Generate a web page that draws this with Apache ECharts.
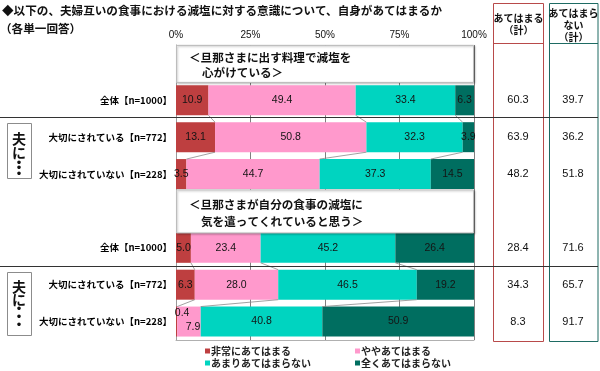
<!DOCTYPE html>
<html><head><meta charset="utf-8">
<script src="https://cdn.jsdelivr.net/npm/echarts@6/dist/echarts.min.js"></script>
<style>html,body{margin:0;padding:0;background:#fff}#c{width:600px;height:371px}</style>
</head><body><div id="c"></div>
<script>
const rowLabels = ['', '全体【n=1000】', '大切にされている【n=772】', '大切にされていない【n=228】', '', '全体【n=1000】', '大切にされている【n=772】', '大切にされていない【n=228】'];
const seriesNames = ['非常にあてはまる', 'ややあてはまる', 'あまりあてはまらない', '全くあてはまらない'];
const veryTrue = ['-', 10.9, 13.1, 3.5, '-', 5.0, 6.3, 0.4];
const somewhatTrue = ['-', 49.4, 50.8, 44.7, '-', 23.4, 28.0, 7.9];
const notVery = ['-', 33.4, 32.3, 37.3, '-', 45.2, 46.5, 40.8];
const notAtAll = ['-', 6.3, 3.9, 14.5, '-', 26.4, 19.2, 50.9];
const trueTotal = ['-', 60.3, 63.9, 48.2, '-', 28.4, 34.3, 8.3];
const falseTotal = ['-', 39.7, 36.2, 51.8, '-', 71.6, 65.7, 91.7];
const headerRows = [0, 4];
const headerTexts = [['＜旦那さまに出す料理で減塩を', '心がけている＞'], ['＜旦那さまが自分の食事の減塩に', '気を遣ってくれていると思う＞']];
const linkPairs = [[1, 2], [2, 3], [5, 6], [6, 7]];
const titleText = '◆以下の、夫婦互いの食事における減塩に対する意識について、自身があてはまるか';
const subTitleText = '（各単一回答）';
const colTrueHeader = 'あてはまる\n（計）';
const colFalseHeader = 'あてはまら\nない\n（計）';
const groupLabel = ['夫', 'に', '・', '・', '・'];

const colors = ['#BE3F40', '#FF99CC', '#00D4C0', '#006E60'];
const allSeries = [veryTrue, somewhatTrue, notVery, notAtAll];
const JP = '"Noto Sans CJK JP", sans-serif';
const NUM = '"Liberation Sans", Arial, sans-serif';
const BARW = 30;

const labelOffsets = { '0_7': [5.5, -8.5], '1_7': [4, 5.5] };

function cum(row, k) {
  let s = 0;
  for (let j = 0; j < k; j++) s += allSeries[j][row];
  return s;
}

const barSeries = allSeries.map((arr, si) => ({
  name: seriesNames[si],
  type: 'bar',
  stack: 'all',
  barWidth: BARW,
  itemStyle: { color: colors[si] },
  label: {
    show: true, position: 'inside', color: '#141414', fontSize: 10.5, fontFamily: NUM,
    formatter: p => Number(p.value).toFixed(1)
  },
  data: arr.map((v, i) => {
    const off = labelOffsets[si + '_' + i];
    if (off) return { value: v, label: { offset: off } };
    return v;
  }),
  z: 2
}));

const linkSeries = {
  type: 'custom', name: 'links', clip: false, silent: true, z: 3,
  encode: { x: 0, y: 1 },
  data: linkPairs.map(p => [0, p[0]]),
  renderItem: (params, api) => {
    const pr = linkPairs[params.dataIndex];
    const children = [];
    for (let k = 1; k <= 3; k++) {
      const a = api.coord([cum(pr[0], k), pr[0]]);
      const b = api.coord([cum(pr[1], k), pr[1]]);
      children.push({
        type: 'line',
        shape: { x1: a[0], y1: a[1] + BARW / 2, x2: b[0], y2: b[1] - BARW / 2 },
        style: { stroke: '#8a8a8a', lineWidth: 0.8 }
      });
    }
    return { type: 'group', children };
  }
};

const headerSeries = {
  type: 'custom', name: 'headers', clip: false, silent: true, z: 4,
  encode: { x: 0, y: 1 },
  data: headerRows.map(r => [0, r]),
  renderItem: (params, api) => {
    const r = headerRows[params.dataIndex];
    const lines = headerTexts[params.dataIndex];
    const p0 = api.coord([0, r]);
    const p1 = api.coord([100, r]);
    const big = params.dataIndex === 1;
    const top = big ? p0[1] - 21.5 : p0[1] - 18.5;
    const h = big ? 43 : 37;
    return {
      type: 'group', children: [
        { type: 'rect', shape: { x: p0[0] + 0.5, y: top + 0.5, width: p1[0] - p0[0] - 1, height: h },
          style: { fill: '#fff', stroke: '#bdbdbd', lineWidth: 1, shadowBlur: 2, shadowOffsetX: 1, shadowOffsetY: 1, shadowColor: 'rgba(0,0,0,0.25)' } },
        { type: 'text', style: { x: p0[0] + 13, y: p0[1] - 6, text: lines[0], fill: '#111', font: 'bold 11.6px ' + JP, verticalAlign: 'middle' } },
        { type: 'text', style: { x: p0[0] + (big ? 25 : 26), y: big ? p0[1] + 11 : p0[1] + 9.5, text: lines[1], fill: '#111', font: 'bold 11.6px ' + JP, verticalAlign: 'middle' } }
      ]
    };
  }
};

const totalRows = [];
trueTotal.forEach((v, i) => { if (v !== '-') totalRows.push([0, i, v, falseTotal[i]]); });
const totalSeries = {
  type: 'custom', name: 'totals', clip: false, silent: true, z: 4,
  encode: { x: 0, y: 1 },
  data: totalRows,
  renderItem: (params, api) => {
    const y = api.coord([0, api.value(1)])[1];
    return {
      type: 'group', children: [
        { type: 'text', style: { x: 518, y: y, text: api.value(2).toFixed(1), fill: '#111', font: '11px ' + NUM, align: 'center', verticalAlign: 'middle' } },
        { type: 'text', style: { x: 573, y: y, text: api.value(3).toFixed(1), fill: '#111', font: '11px ' + NUM, align: 'center', verticalAlign: 'middle' } }
      ]
    };
  }
};

function vertLabel(yList) {
  return groupLabel.map((ch, i) => ({
    type: 'text', x: 19, y: yList[i],
    style: { text: ch, fill: '#111', font: 'bold 14px ' + JP, align: 'center', verticalAlign: 'middle' }
  }));
}

const legendCommon = {
  orient: 'vertical', top: 346, padding: 0, itemWidth: 5, itemHeight: 5, itemGap: 2, icon: 'rect',
  selectedMode: false,
  textStyle: { fontSize: 10, fontWeight: 'bold', color: '#222', fontFamily: JP, padding: [0, 0, 0, -4] }
};

const chart = echarts.init(document.getElementById('c'), null, { renderer: 'canvas' });
chart.setOption({
  animation: false,
  backgroundColor: '#fff',
  grid: { left: 176, right: 126, top: 45, bottom: 31, containLabel: false },
  xAxis: [{
    type: 'value', position: 'top', min: 0, max: 100, interval: 25,
    axisLine: { show: false }, axisTick: { show: false },
    splitLine: { show: true, lineStyle: { color: '#7f7f7f', width: 1 } },
    axisLabel: { formatter: '{value}%', fontSize: 10, color: '#111', fontFamily: NUM, margin: 5 }
  }, {
    type: 'value', position: 'bottom', min: 0, max: 100, interval: 25,
    axisLine: { show: true, lineStyle: { color: '#b0b0b0' } }, axisTick: { show: false },
    splitLine: { show: false }, axisLabel: { show: false }
  }],
  yAxis: {
    type: 'category', inverse: true, data: rowLabels,
    axisLine: { show: true, lineStyle: { color: '#9a9a9a' } }, axisTick: { show: false },
    axisLabel: { fontSize: 9.5, fontWeight: 'bold', color: '#000', fontFamily: JP, margin: 4 }
  },
  legend: [
    Object.assign({ left: 205, data: [seriesNames[0], seriesNames[2]] }, legendCommon),
    Object.assign({ left: 355, data: [seriesNames[1], seriesNames[3]] }, legendCommon)
  ],
  series: barSeries.concat([linkSeries, headerSeries, totalSeries]),
  graphic: [
    { type: 'text', x: 2, y: 11, style: { text: titleText, fill: '#111', font: 'bold 11.6px ' + JP, verticalAlign: 'middle' } },
    { type: 'text', x: 0, y: 29, style: { text: subTitleText, fill: '#111', font: 'bold 11.6px ' + JP, verticalAlign: 'middle' } },
    { type: 'rect', shape: { x: 493.5, y: 3.5, width: 50, height: 338 }, style: { fill: 'none', stroke: '#B84A4A', lineWidth: 1 } },
    { type: 'line', shape: { x1: 493.5, y1: 43.5, x2: 543.5, y2: 43.5 }, style: { stroke: '#B84A4A', lineWidth: 1 } },
    { type: 'rect', shape: { x: 549.5, y: 3.5, width: 48.5, height: 338 }, style: { fill: 'none', stroke: '#1E6B63', lineWidth: 1 } },
    { type: 'line', shape: { x1: 549.5, y1: 43.5, x2: 598, y2: 43.5 }, style: { stroke: '#1E6B63', lineWidth: 1 } },
    { type: 'text', x: 518.5, y: 24, style: { text: colTrueHeader, fill: '#111', font: 'bold 10px ' + JP, align: 'center', verticalAlign: 'middle', lineHeight: 12 } },
    { type: 'text', x: 573.5, y: 25, style: { text: colFalseHeader, fill: '#111', font: 'bold 10px ' + JP, align: 'center', verticalAlign: 'middle', lineHeight: 12 } },
    { type: 'line', shape: { x1: 0, y1: 117.5, x2: 598, y2: 117.5 }, style: { stroke: '#333', lineWidth: 1 }, z: 10 },
    { type: 'line', shape: { x1: 0, y1: 266.5, x2: 598, y2: 266.5 }, style: { stroke: '#333', lineWidth: 1 }, z: 10 },
    { type: 'rect', shape: { x: 7.5, y: 123.5, width: 24, height: 55 }, style: { fill: '#fff', stroke: '#8c8c8c', lineWidth: 1 } },
    { type: 'rect', shape: { x: 7.5, y: 272.5, width: 24, height: 63 }, style: { fill: '#fff', stroke: '#8c8c8c', lineWidth: 1 } }
  ].concat(vertLabel([139, 152.5, 161.5, 167, 172.5])).concat(vertLabel([286.5, 300, 308, 316, 324]))
});
</script>
</body></html>
